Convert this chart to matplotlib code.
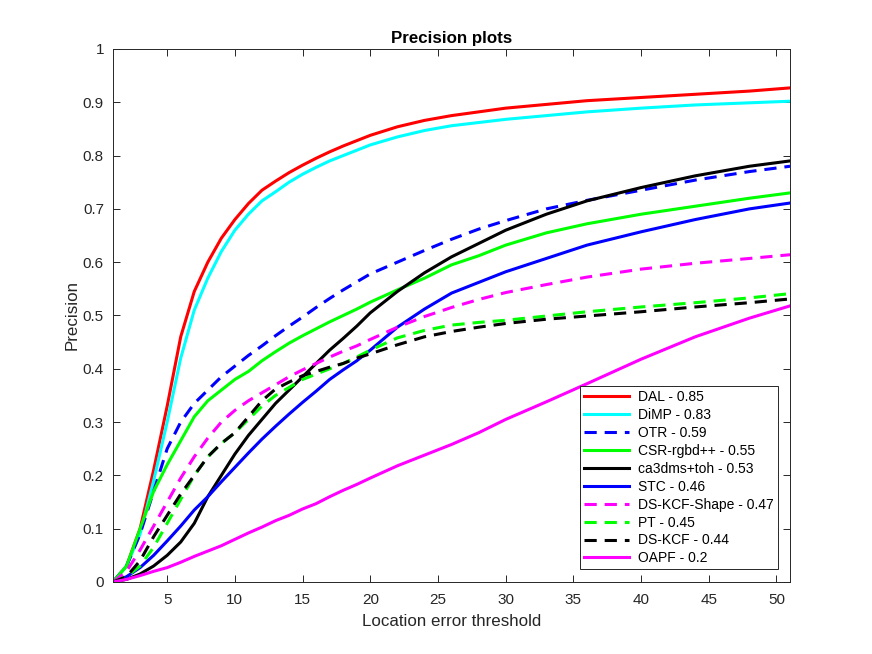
import matplotlib
matplotlib.use("Agg")
import matplotlib.pyplot as plt

plt.rcParams['font.family'] = ['Liberation Sans', 'DejaVu Sans']

# location error thresholds
thresholds = list(range(1, 21)) + [22, 24, 26, 28, 30, 33, 36, 40, 44, 48, 51]

dal = [0, 0.03, 0.10, 0.21, 0.33, 0.46, 0.545, 0.60, 0.645, 0.68, 0.71, 0.735, 0.752, 0.768,
       0.782, 0.795, 0.807, 0.818, 0.828, 0.838,
       0.854, 0.866, 0.875, 0.882, 0.889, 0.896, 0.903, 0.909, 0.915, 0.921, 0.927]
dimp = [0, 0.03, 0.09, 0.19, 0.30, 0.42, 0.51, 0.57, 0.62, 0.66, 0.69, 0.715, 0.732, 0.75,
        0.765, 0.778, 0.79, 0.80, 0.81, 0.82,
        0.835, 0.847, 0.856, 0.862, 0.868, 0.875, 0.882, 0.889, 0.895, 0.899, 0.902]
otr = [0, 0.03, 0.09, 0.17, 0.25, 0.30, 0.335, 0.36, 0.385, 0.405, 0.425, 0.443, 0.462, 0.48,
       0.497, 0.515, 0.532, 0.548, 0.563, 0.578,
       0.60, 0.622, 0.643, 0.662, 0.678, 0.70, 0.716, 0.735, 0.754, 0.77, 0.78]
csr = [0, 0.03, 0.10, 0.17, 0.22, 0.265, 0.31, 0.34, 0.36, 0.38, 0.395, 0.415, 0.432, 0.448,
       0.462, 0.475, 0.488, 0.5, 0.512, 0.525,
       0.548, 0.57, 0.595, 0.612, 0.632, 0.655, 0.672, 0.69, 0.705, 0.72, 0.73]
ca3dms = [0, 0.005, 0.015, 0.03, 0.05, 0.075, 0.11, 0.16, 0.20, 0.24, 0.275, 0.305, 0.335, 0.36,
          0.385, 0.41, 0.435, 0.457, 0.48, 0.505,
          0.545, 0.58, 0.61, 0.635, 0.66, 0.69, 0.715, 0.74, 0.762, 0.78, 0.79]
stc = [0, 0.01, 0.027, 0.05, 0.077, 0.105, 0.135, 0.16, 0.188, 0.215, 0.242, 0.268, 0.292, 0.315,
       0.337, 0.358, 0.38, 0.398, 0.415, 0.435,
       0.478, 0.512, 0.542, 0.562, 0.582, 0.607, 0.632, 0.657, 0.68, 0.70, 0.711]
dskcf_shape = [0, 0.02, 0.06, 0.105, 0.15, 0.195, 0.235, 0.27, 0.30, 0.322, 0.34, 0.355, 0.37, 0.385,
               0.398, 0.41, 0.422, 0.433, 0.443, 0.455,
               0.478, 0.498, 0.515, 0.53, 0.543, 0.558, 0.572, 0.587, 0.598, 0.607, 0.614]
pt = [0, 0.01, 0.03, 0.065, 0.11, 0.155, 0.2, 0.235, 0.26, 0.28, 0.305, 0.33, 0.35, 0.365,
      0.38, 0.39, 0.40, 0.41, 0.422, 0.435,
      0.458, 0.472, 0.482, 0.487, 0.491, 0.499, 0.507, 0.516, 0.524, 0.533, 0.541]
dskcf = [0, 0.01, 0.04, 0.085, 0.125, 0.165, 0.20, 0.235, 0.26, 0.28, 0.31, 0.34, 0.362, 0.375,
         0.387, 0.395, 0.403, 0.41, 0.42, 0.428,
         0.445, 0.46, 0.47, 0.478, 0.485, 0.493, 0.499, 0.507, 0.516, 0.524, 0.531]
oapf = [0, 0.005, 0.012, 0.02, 0.027, 0.037, 0.048, 0.058, 0.068, 0.08, 0.092, 0.103, 0.115, 0.125,
        0.137, 0.147, 0.16, 0.172, 0.183, 0.195,
        0.218, 0.238, 0.258, 0.28, 0.305, 0.338, 0.372, 0.418, 0.46, 0.495, 0.518]

series = [
    ('DAL - 0.85', dal, (1, 0, 0), '-'),
    ('DiMP - 0.83', dimp, (0, 1, 1), '-'),
    ('OTR - 0.59', otr, (0, 0, 1), '--'),
    ('CSR-rgbd++ - 0.55', csr, (0, 1, 0), '-'),
    ('ca3dms+toh - 0.53', ca3dms, (0, 0, 0), '-'),
    ('STC - 0.46', stc, (0, 0, 1), '-'),
    ('DS-KCF-Shape - 0.47', dskcf_shape, (1, 0, 1), '--'),
    ('PT - 0.45', pt, (0, 1, 0), '--'),
    ('DS-KCF - 0.44', dskcf, (0, 0, 0), '--'),
    ('OAPF - 0.2', oapf, (1, 0, 1), '-'),
]

dark = (0.15, 0.15, 0.15)

fig = plt.figure(figsize=(8.72, 6.54), dpi=100)
ax = fig.add_axes([0.1296, 0.1101, 0.7764, 0.8150])

for name, vals, color, ls in series:
    if ls == '--':
        ax.plot(thresholds, vals, color=color, lw=2.2, linestyle=(0, (4, 2.6)), label=name)
    else:
        ax.plot(thresholds, vals, color=color, lw=2.2, label=name)

ax.set_xlim(1, 51)
ax.set_ylim(0, 1)
ax.set_xticks(range(5, 51, 5))
ax.set_yticks([i / 10 for i in range(11)])
ax.set_yticklabels(['0'] + ['0.%d' % i for i in range(1, 10)] + ['1'])
ax.tick_params(direction='in', top=True, right=True, labelsize=11, colors=dark,
               length=5, width=0.7)
ax.tick_params(axis='x', pad=8)
ax.tick_params(axis='y', pad=6.5)
for s in ax.spines.values():
    s.set_color(dark)
    s.set_linewidth(0.7)

ax.set_title('Precision plots', fontsize=12.2, fontweight='bold', pad=4.5)
ax.set_xlabel('Location error threshold', fontsize=12.2, color=dark, labelpad=5)
ax.set_ylabel('Precision', fontsize=12.2, color=dark, labelpad=2)

leg = ax.legend(loc='lower right', fontsize=10, handlelength=3.2, fancybox=False,
                framealpha=1, edgecolor=dark, borderaxespad=0.9,
                labelspacing=0.28, borderpad=0.3, handletextpad=0.65)
leg.get_frame().set_linewidth(0.7)

fig.savefig('out.png', dpi=100)
